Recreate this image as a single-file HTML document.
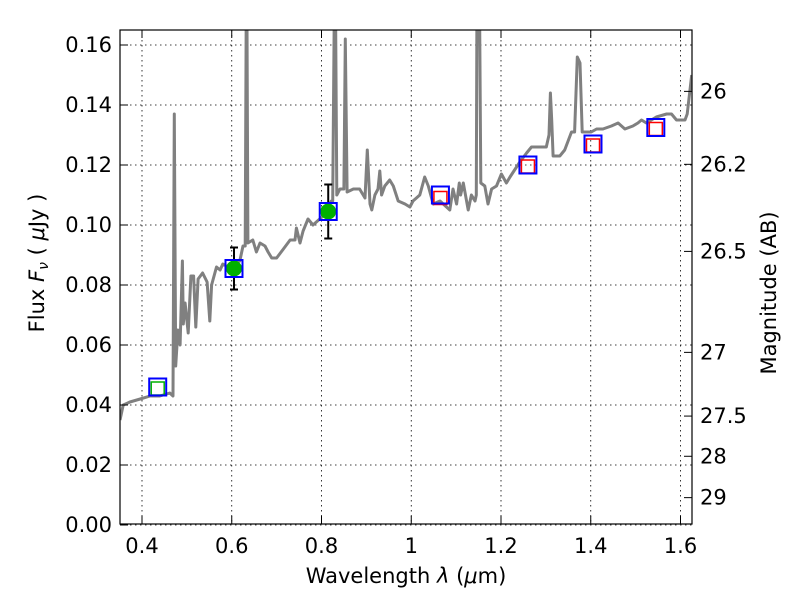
<!DOCTYPE html>
<html><head><meta charset="utf-8"><style>
body{margin:0;background:#fff;}
svg{display:block;font-family:"DejaVu Sans","Liberation Sans",sans-serif;}
</style></head><body>
<svg id="chart" width="800" height="600" viewBox="0 0 800 600" xmlns="http://www.w3.org/2000/svg">
<defs><clipPath id="pc"><rect x="120" y="30" width="572" height="494"/></clipPath></defs>
<rect x="0" y="0" width="800" height="600" fill="#fff"/>
<g id="grid"></g>
<g id="spec" clip-path="url(#pc)"></g>
<g id="marks"></g>
<rect x="120" y="30" width="572" height="494" fill="none" stroke="#000" stroke-width="1.2"/>
<g id="axes"></g>
<text x="406" y="583" font-size="21" text-anchor="middle">Wavelength  <tspan font-style="italic">λ</tspan> (<tspan font-style="italic">μ</tspan>m)</text>
<text transform="translate(44,263) rotate(-90)" font-size="21" text-anchor="middle">Flux  <tspan font-style="italic">F</tspan><tspan font-style="italic" font-size="14" dy="4">ν</tspan><tspan dy="-4">  ( </tspan><tspan font-style="italic">μ</tspan>Jy )</text>
<text transform="translate(776,293) rotate(-90)" font-size="21" text-anchor="middle">Magnitude (AB)</text>
</svg>
<script>
const specLam=[0.351,0.358,0.373,0.396,0.418,0.440,0.462,0.469,0.472,0.475,0.480,0.485,0.490,0.492,0.496,0.503,0.509,0.515,0.520,0.525,0.535,0.545,0.551,0.555,0.566,0.574,0.580,0.592,0.618,0.625,0.630,0.633,0.636,0.647,0.655,0.663,0.674,0.681,0.689,0.700,0.715,0.730,0.741,0.744,0.752,0.759,0.770,0.781,0.796,0.811,0.822,0.825,0.830,0.834,0.841,0.850,0.853,0.857,0.871,0.885,0.897,0.902,0.908,0.912,0.919,0.926,0.930,0.934,0.941,0.952,0.960,0.971,0.986,0.997,1.004,1.019,1.030,1.038,1.049,1.064,1.086,1.093,1.101,1.107,1.110,1.116,1.127,1.134,1.142,1.145,1.147,1.151,1.155,1.164,1.171,1.179,1.190,1.201,1.212,1.220,1.242,1.257,1.268,1.279,1.301,1.307,1.310,1.313,1.316,1.331,1.342,1.357,1.364,1.370,1.376,1.381,1.401,1.413,1.427,1.446,1.461,1.476,1.494,1.505,1.513,1.524,1.546,1.569,1.580,1.591,1.610,1.615,1.625];
const specFlux=[0.035,0.040,0.041,0.042,0.043,0.043,0.044,0.043,0.137,0.053,0.065,0.060,0.088,0.067,0.074,0.064,0.083,0.083,0.066,0.082,0.084,0.081,0.068,0.080,0.086,0.085,0.087,0.086,0.088,0.093,0.093,0.200,0.094,0.095,0.091,0.094,0.093,0.091,0.089,0.089,0.092,0.095,0.095,0.099,0.094,0.098,0.102,0.100,0.102,0.104,0.108,0.108,0.200,0.110,0.112,0.112,0.162,0.111,0.112,0.112,0.109,0.125,0.107,0.105,0.110,0.112,0.118,0.110,0.113,0.115,0.113,0.108,0.107,0.106,0.108,0.110,0.116,0.113,0.107,0.108,0.105,0.112,0.107,0.114,0.110,0.114,0.105,0.110,0.108,0.110,0.200,0.200,0.114,0.113,0.107,0.112,0.113,0.117,0.114,0.116,0.121,0.124,0.126,0.126,0.126,0.130,0.144,0.135,0.123,0.123,0.125,0.131,0.131,0.156,0.154,0.131,0.131,0.132,0.132,0.133,0.134,0.132,0.133,0.134,0.135,0.134,0.136,0.137,0.137,0.135,0.135,0.137,0.150];
const bandLam=[0.435,0.605,0.815,1.065,1.26,1.405,1.545];
const bandFlux=[0.046,0.0855,0.1045,0.110,0.120,0.127,0.1325];
const modelLam=[1.065,1.26,1.405,1.545];
const modelFlux=[0.109,0.1195,0.1265,0.132];
const obsLam=[0.605,0.815];
const obsFlux=[0.0855,0.1045];
const obsErr=[0.007,0.009];
const limLam=[0.435];
const limFlux=[0.0455];
const xTicks=[0.4,0.6,0.8,1.0,1.2,1.4,1.6];
const xTickLabels=["0.4","0.6","0.8","1","1.2","1.4","1.6"];
const yTicks=[0,0.02,0.04,0.06,0.08,0.10,0.12,0.14,0.16];
const yTickLabels=["0.00","0.02","0.04","0.06","0.08","0.10","0.12","0.14","0.16"];
const magTicks=[26,26.2,26.5,27,27.5,28,29];
const magTickLabels=["26","26.2","26.5","27","27.5","28","29"];

const NS="http://www.w3.org/2000/svg";
const X=l=>142+(l-0.4)*448.75;
const Y=f=>525-f*3000;
function mk(tag,parent,attrs){const e=document.createElementNS(NS,tag);for(const k in attrs)e.setAttribute(k,attrs[k]);parent.appendChild(e);return e;}
const grid=document.getElementById('grid'),axes=document.getElementById('axes'),spec=document.getElementById('spec'),marks=document.getElementById('marks');

xTicks.forEach((t,i)=>{
 const g=mk('line',grid,{x1:X(t),x2:X(t),y1:30,y2:524,stroke:'#000','stroke-width':0.8,'stroke-dasharray':'1.5,3.5'});
 
 
 mk('line',axes,{x1:X(t),x2:X(t),y1:524,y2:516,stroke:'#000'});
 mk('line',axes,{x1:X(t),x2:X(t),y1:30,y2:38,stroke:'#000'});
 const tx=mk('text',axes,{x:X(t),y:553,'font-size':21,'text-anchor':'middle'});
 tx.textContent=xTickLabels[i];
 
 
});
yTicks.forEach((t,i)=>{
 const g=mk('line',grid,{x1:120,x2:692,y1:Y(t),y2:Y(t),stroke:'#000','stroke-width':0.8,'stroke-dasharray':'1.5,3.5'});
 
 
 mk('line',axes,{x1:120,x2:128,y1:Y(t),y2:Y(t),stroke:'#000'});
 const tx=mk('text',axes,{x:112,y:Y(t)+7,'font-size':21,'text-anchor':'end'});
 tx.textContent=yTickLabels[i];
 
 
});
magTicks.forEach((m,i)=>{
 const f=Math.pow(10,(23.9-m)/2.5);
 mk('line',axes,{x1:692,x2:684,y1:Y(f),y2:Y(f),stroke:'#000'});
 const tx=mk('text',axes,{x:700,y:Y(f)+7,'font-size':21,'text-anchor':'start'});
 tx.textContent=magTickLabels[i];
 
 
});

const pl=mk('polyline',spec,{points:specLam.map((l,i)=>X(l).toFixed(1)+','+Y(specFlux[i]).toFixed(1)).join(' '),fill:'none',stroke:'#808080','stroke-width':3,'stroke-linejoin':'round'});



limLam.forEach((l,i)=>{
 const r=mk('rect',marks,{x:X(l)-6.5,y:Y(limFlux[i])-6.5,width:13,height:13,fill:'none',stroke:'#00b000','stroke-width':1.5});
 
 
});
modelLam.forEach((l,i)=>{
 const r=mk('rect',marks,{x:X(l)-6.5,y:Y(modelFlux[i])-6.5,width:13,height:13,fill:'none',stroke:'#ff0000','stroke-width':1.5});
 
 
});
obsLam.forEach((l,i)=>{
 const x=X(l),y1=Y(obsFlux[i]+obsErr[i]),y2=Y(obsFlux[i]-obsErr[i]);
 const e=mk('g',marks,{});
 
 
 mk('line',e,{x1:x,x2:x,y1:y1,y2:y2,stroke:'#000','stroke-width':2});
 mk('line',e,{x1:x-4,x2:x+4,y1:y1,y2:y1,stroke:'#000','stroke-width':2});
 mk('line',e,{x1:x-4,x2:x+4,y1:y2,y2:y2,stroke:'#000','stroke-width':2});
 const c=mk('circle',marks,{cx:x,cy:Y(obsFlux[i]),r:8,fill:'#00b000'});
 
 
});
bandLam.forEach((l,i)=>{
 const r=mk('rect',marks,{x:X(l)-8.5,y:Y(bandFlux[i])-8.5,width:17,height:17,fill:'none',stroke:'#0000ff','stroke-width':2});
 
 
});
</script>
</body></html>
